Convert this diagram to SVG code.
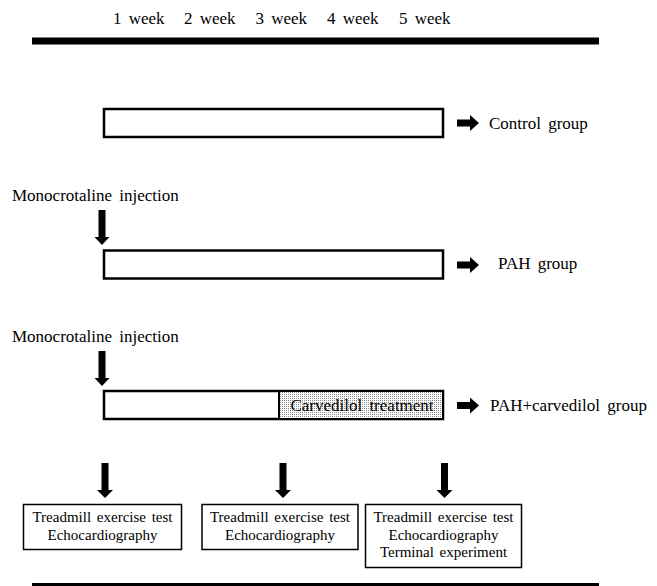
<svg xmlns="http://www.w3.org/2000/svg" width="657" height="586" viewBox="0 0 657 586">
<defs>
<style>
text{font-family:"Liberation Serif","Times New Roman",serif;fill:#000}
.lbl{font-size:17px;word-spacing:3px}
.box-t{font-size:15px;text-anchor:middle;word-spacing:2px}
.grp{fill:#fff;stroke:#000;stroke-width:2.5}
.meas{fill:#fff;stroke:#000;stroke-width:1.5}
.bar{fill:#000}
.arr{fill:#000}
</style>
<pattern id="dots" width="2" height="2" patternUnits="userSpaceOnUse">
<rect width="2" height="2" fill="#fff"/>
<rect width="1" height="1" fill="#8a8a8a"/>
</pattern>
</defs>

<g id="timeline">
<text class="lbl" x="113" y="24">1 week</text>
<text class="lbl" x="184" y="24">2 week</text>
<text class="lbl" x="255.5" y="24">3 week</text>
<text class="lbl" x="327" y="24">4 week</text>
<text class="lbl" x="399" y="24">5 week</text>
<rect class="bar" x="32" y="37.5" width="567" height="7"/>
</g>

<g id="control">
<rect class="grp" x="104" y="109" width="339" height="28"/>
<text class="lbl" x="489" y="128.5">Control group</text>
</g>

<g id="mct1">
<text class="lbl" x="12" y="200.5">Monocrotaline  injection</text>
</g>

<g id="pah">
<rect class="grp" x="104" y="250.5" width="339" height="28"/>
<text class="lbl" x="498" y="269">PAH group</text>
</g>

<g id="mct2">
<text class="lbl" x="12" y="341.5">Monocrotaline  injection</text>
</g>

<g id="carvedilol">
<rect class="grp" x="104" y="391" width="339" height="28"/>
<rect x="279" y="391" width="164" height="28" fill="url(#dots)" stroke="#000" stroke-width="2"/>
<text class="lbl" x="362" y="410.5" text-anchor="middle">Carvedilol treatment</text>
<text class="lbl" x="490" y="410.5">PAH+carvedilol group</text>
</g>

<g id="test1">
<rect class="meas" x="23.5" y="504.5" width="158" height="45"/>
<text class="box-t" x="102.5" y="522">Treadmill  exercise test</text>
<text class="box-t" x="102.5" y="539.5">Echocardiography</text>
</g>

<g id="test2">
<rect class="meas" x="202" y="504.5" width="156" height="45"/>
<text class="box-t" x="280" y="522">Treadmill  exercise test</text>
<text class="box-t" x="280" y="539.5">Echocardiography</text>
</g>

<g id="test3">
<rect class="meas" x="365.5" y="504.5" width="156" height="63"/>
<text class="box-t" x="443.5" y="522">Treadmill  exercise test</text>
<text class="box-t" x="443.5" y="539.5">Echocardiography</text>
<text class="box-t" x="443.5" y="557">Terminal  experiment</text>
</g>

<g id="bottom-bar">
<rect class="bar" x="32" y="583" width="567" height="5"/>
</g>

<g id="connectors">
<!-- right arrows -->
<path class="arr" d="M457,119.5 H470 V115 L479,123 L470,131 V126.5 H457 Z"/>
<path class="arr" d="M457,261.5 H470 V257 L479,265 L470,273 V268.5 H457 Z"/>
<path class="arr" d="M457,402 H470 V397.5 L479,405.5 L470,413.5 V409 H457 Z"/>
<!-- down arrows: monocrotaline -->
<path class="arr" d="M98.5,210 H105.5 V237 H109.5 L102,245 L94.5,237 H98.5 Z"/>
<path class="arr" d="M98.5,351 H105.5 V378 H109.5 L102,386 L94.5,378 H98.5 Z"/>
<!-- down arrows: tests -->
<path class="arr" d="M101.5,463 H108.5 V490 H113 L105,498 L97,490 H101.5 Z"/>
<path class="arr" d="M279.5,463 H286.5 V490 H291 L283,498 L275,490 H279.5 Z"/>
<path class="arr" d="M441,463 H448 V490 H452.5 L444.5,498 L436.5,490 H441 Z"/>
</g>
</svg>
